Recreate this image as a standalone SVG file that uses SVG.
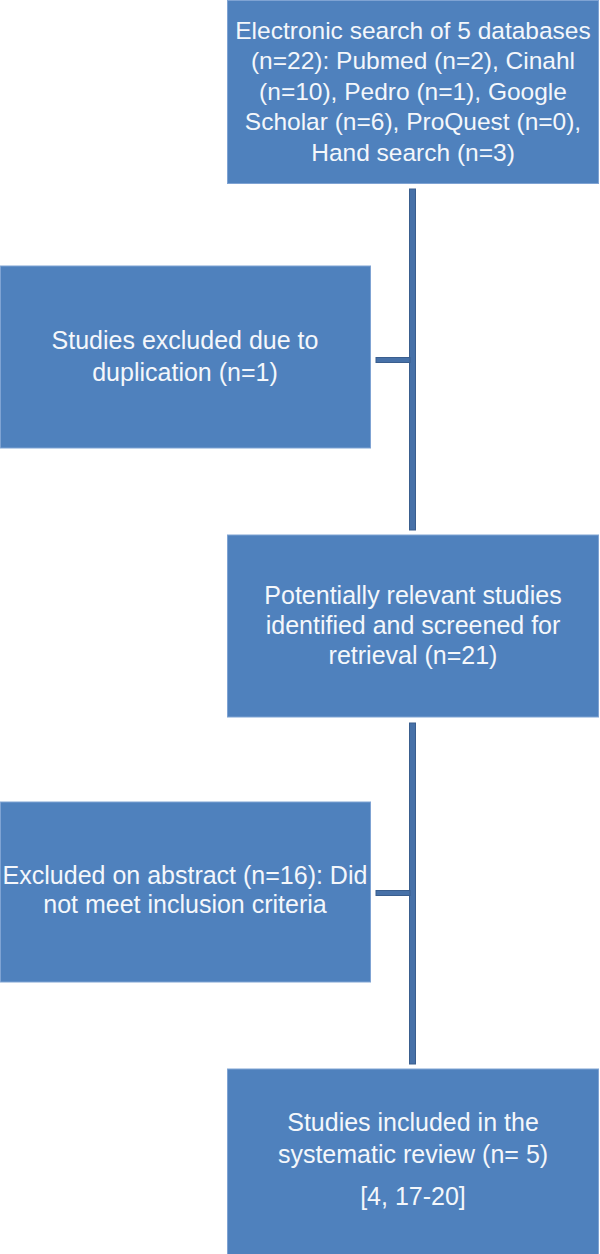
<svg xmlns="http://www.w3.org/2000/svg" width="600" height="1254" viewBox="0 0 600 1254">
<style>
.box{fill:#4f81bd;stroke:#7fa3d3;stroke-width:1}
.t{font-family:"Liberation Sans",Arial,sans-serif;fill:#f4f7fb;text-anchor:middle;font-size:25px}
.t1{font-size:24.5px}
.con{fill:#4771a8;stroke:#3a5e8e;stroke-width:1}
</style>
<rect width="600" height="1254" fill="#ffffff"/>
<g id="connectors">
<rect class="con" x="409.5" y="189" width="6" height="341"/>
<rect class="con" x="376" y="357.5" width="34" height="5"/>
<rect class="con" x="409.5" y="723" width="6" height="341"/>
<rect class="con" x="376" y="890.5" width="34" height="5"/>
</g>
<g id="search">
<rect class="box" x="227.5" y="0.5" width="371" height="183"/>
<text class="t t1"><tspan x="413" y="38.5">Electronic search of 5 databases</tspan><tspan x="413" y="69">(n=22): Pubmed (n=2), Cinahl</tspan><tspan x="413" y="99.5">(n=10), Pedro (n=1), Google</tspan><tspan x="413" y="130">Scholar (n=6), ProQuest (n=0),</tspan><tspan x="413" y="160.5">Hand search (n=3)</tspan></text>
</g>
<g id="duplicates">
<rect class="box" x="0.5" y="266" width="370" height="182"/>
<text class="t"><tspan x="185" y="349">Studies excluded due to</tspan><tspan x="185" y="381">duplication (n=1)</tspan></text>
</g>
<g id="screened">
<rect class="box" x="227.5" y="535" width="371" height="182"/>
<text class="t"><tspan x="413" y="604">Potentially relevant studies</tspan><tspan x="413" y="634">identified and screened for</tspan><tspan x="413" y="664">retrieval (n=21)</tspan></text>
</g>
<g id="excluded">
<rect class="box" x="0.5" y="802" width="370" height="180"/>
<text class="t"><tspan x="185" y="884">Excluded on abstract (n=16): Did</tspan><tspan x="185" y="913">not meet inclusion criteria</tspan></text>
</g>
<g id="included">
<rect class="box" x="227.5" y="1069" width="371" height="186"/>
<text class="t"><tspan x="413" y="1131">Studies included in the</tspan><tspan x="413" y="1163">systematic review (n= 5)</tspan><tspan x="413" y="1205">[4, 17-20]</tspan></text>
</g>
</svg>
